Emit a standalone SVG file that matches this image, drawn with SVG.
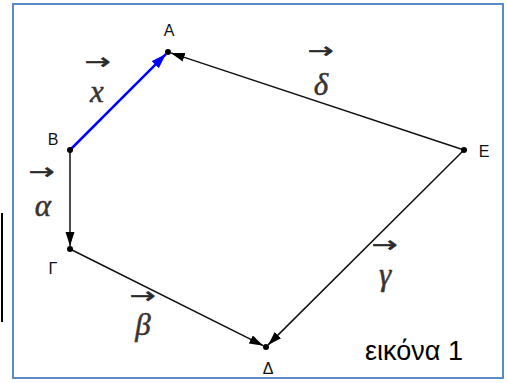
<svg xmlns="http://www.w3.org/2000/svg" width="508" height="383" viewBox="0 0 508 383">
<style>
.pt{font-family:"Liberation Sans",Arial,sans-serif;font-size:16px;fill:#111;text-anchor:middle}
.vl{font-family:"Liberation Serif","Times New Roman",serif;font-style:italic;font-size:31px;fill:#3a3430;stroke:#3a3430;stroke-width:0.5;text-anchor:middle}
.ar{font-family:"DejaVu Sans",sans-serif;font-size:22px;fill:#2a2a2a;stroke:#2a2a2a;stroke-width:0.6;text-anchor:middle}
.ln{stroke:#111;stroke-width:1.5;fill:none}
.dot{fill:#000}
</style>
<defs>
<marker id="hk" markerUnits="userSpaceOnUse" markerWidth="15" markerHeight="10" refX="14" refY="4.5" orient="auto"><path d="M0,0 L14,4.5 L0,9 z" fill="#000"/></marker>
<marker id="hb" markerUnits="userSpaceOnUse" markerWidth="16" markerHeight="11" refX="15" refY="5" orient="auto"><path d="M0,0 L15,5 L0,10 z" fill="#0000ff"/></marker>
</defs>
<rect x="0" y="0" width="508" height="383" fill="#fff"/>
<rect x="13" y="4" width="490" height="374" fill="#fff" stroke="#5b8bc6" stroke-width="2"/>
<line x1="2" y1="213" x2="2" y2="322" stroke="#000" stroke-width="2"/>
<g id="connectors">
<line class="ln" x1="464" y1="150" x2="170.8" y2="52.9" marker-end="url(#hk)"/>
<line class="ln" x1="70" y1="150" x2="70" y2="246" marker-end="url(#hk)"/>
<line class="ln" x1="70" y1="249" x2="263.3" y2="345.7" marker-end="url(#hk)"/>
<line class="ln" x1="464" y1="150" x2="268.1" y2="344.9" marker-end="url(#hk)"/>
<line x1="70" y1="150" x2="165.9" y2="54.1" stroke="#0000ff" stroke-width="2.5" marker-end="url(#hb)"/>
</g>
<g id="node-A"><circle class="dot" cx="168" cy="52" r="3"/><text class="pt" x="169" y="36">A</text></g>
<g id="node-B"><circle class="dot" cx="70" cy="150" r="3"/><text class="pt" x="53" y="145">B</text></g>
<g id="node-G"><circle class="dot" cx="70" cy="249" r="3"/><text class="pt" x="53" y="274">Γ</text></g>
<g id="node-D"><circle class="dot" cx="266" cy="347" r="3"/><text class="pt" x="268" y="374">Δ</text></g>
<g id="node-E"><circle class="dot" cx="464" cy="150" r="3"/><text class="pt" x="484" y="157">E</text></g>
<g id="vector-labels">
<text class="ar" transform="translate(98,69) scale(1.4,1)">→</text><text class="vl" x="97" y="102">x</text>
<text class="ar" transform="translate(42,179) scale(1.4,1)">→</text><text class="vl" x="43" y="216">α</text>
<text class="ar" transform="translate(321,58) scale(1.4,1)">→</text><text class="vl" x="321" y="95">δ</text>
<text class="ar" transform="translate(143,303) scale(1.4,1)">→</text><text class="vl" x="143" y="335">β</text>
<text class="ar" transform="translate(385,252) scale(1.4,1)">→</text><text class="vl" x="385" y="285">γ</text>
</g>
<text x="414" y="360" font-family="Liberation Sans,Arial,sans-serif" font-size="27" fill="#000" text-anchor="middle">εικόνα 1</text>
</svg>
